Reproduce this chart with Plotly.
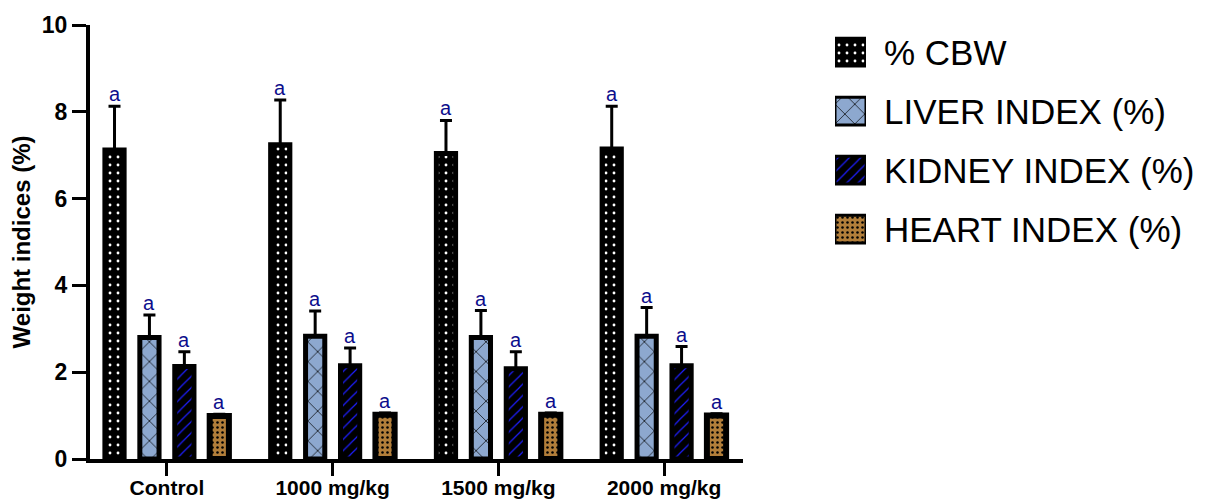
import plotly.graph_objects as go

# ---- data ----
groups = ["Control", "1000 mg/kg", "1500 mg/kg", "2000 mg/kg"]
series_names = ["% CBW", "LIVER INDEX (%)", "KIDNEY INDEX (%)", "HEART INDEX (%)"]
cbw_mean = [7.12, 7.24, 7.04, 7.14]
cbw_sd = [1.01, 1.03, 0.76, 0.99]
liver_mean = [2.80, 2.83, 2.80, 2.83]
liver_sd = [0.52, 0.58, 0.62, 0.66]
kidney_mean = [2.13, 2.15, 2.08, 2.15]
kidney_sd = [0.34, 0.41, 0.39, 0.44]
heart_mean = [0.99, 1.02, 1.02, 1.00]
heart_sd = [0.04, 0.04, 0.04, 0.04]
sig_letters = ["a", "a", "a", "a"]
y_ticks = [0, 2, 4, 6, 8, 10]

means = [cbw_mean, liver_mean, kidney_mean, heart_mean]
sds = [cbw_sd, liver_sd, kidney_sd, heart_sd]

# ---- styles / layout geometry ----
FONT = "Liberation Sans, Arial, sans-serif"
PAGE_OFF = 8                      # default page margin around the figure
W, H = 1207 - PAGE_OFF, 500 - PAGE_OFF
ML = 90 - PAGE_OFF
MT = 25 - PAGE_OFF
MB = H - (459 - PAGE_OFF)
MR = 0
PLOT_W = W - ML - MR
PLOT_H = H - MT - MB
MAIN_RIGHT_PX = 743 - PAGE_OFF    # right end of the x axis line
BARGAP = 0.157
BARGROUPGAP = 0.45
patterns = [
    dict(shape=".", bgcolor="black", fgcolor="white", size=8, solidity=0.1, fillmode="replace"),
    dict(shape="x", bgcolor="#8DA8CF", fgcolor="black", size=14, solidity=0.1, fillmode="replace"),
    dict(shape="/", bgcolor="black", fgcolor="#1E1EFF", size=8, solidity=0.15, fillmode="replace"),
    dict(shape=".", bgcolor="#B27E3A", fgcolor="black", size=5, solidity=0.2, fillmode="replace"),
]
line_widths = [5, 5, 5, 6]
x_idx = list(range(len(groups)))

fig = go.Figure()
for j, name in enumerate(series_names):
    fig.add_trace(go.Bar(
        x=x_idx, y=means[j], name=name, showlegend=False,
        marker=dict(color="black", pattern=patterns[j],
                    line=dict(color="black", width=line_widths[j])),
        error_y=dict(type="data", array=sds[j], symmetric=False, arrayminus=[0]*len(groups),
                     color="black", thickness=3, width=6),
        hoverinfo="skip",
    ))

# significance letters above error bars
slot = (1 - BARGAP) / len(series_names)
for j in range(len(series_names)):
    off = (j - (len(series_names) - 1) / 2) * slot
    for i in x_idx:
        fig.add_annotation(
            x=i + off, y=means[j][i] + sds[j][i], text=sig_letters[i],
            showarrow=False, yanchor="bottom", yshift=-1,
            font=dict(family=FONT, size=20, color="#0D0D8C"),
        )

# legend: large patterned swatches drawn as bars on a small helper axis
leg_idx = list(range(len(series_names)))
for j, name in enumerate(series_names):
    fig.add_trace(go.Bar(
        x=[1], y=[leg_idx[j]], orientation="h", xaxis="x2", yaxis="y2",
        width=0.47, showlegend=False, hoverinfo="skip",
        marker=dict(color="black", pattern=patterns[j],
                    line=dict(color="black", width=3)),
    ))
    fig.add_annotation(
        x=1, y=leg_idx[j], xref="x2", yref="y2", text=name,
        showarrow=False, xanchor="left", xshift=16,
        font=dict(family=FONT, size=35, color="black"),
    )

def px_x(p):
    return (p - PAGE_OFF - ML) / PLOT_W

def px_y(p):
    return (H - MB - (p - PAGE_OFF)) / PLOT_H

fig.update_layout(
    width=W, height=H,
    margin=dict(l=ML, r=MR, t=MT, b=MB, autoexpand=False),
    paper_bgcolor="white", plot_bgcolor="white",
    barmode="group", bargap=BARGAP, bargroupgap=BARGROUPGAP,
    showlegend=False,
    font=dict(family=FONT, color="black"),
    xaxis=dict(
        domain=[0, (MAIN_RIGHT_PX - ML) / PLOT_W],
        range=[-0.464, 3.476], tickmode="array", tickvals=x_idx, ticktext=groups,
        showline=True, linecolor="black", linewidth=4,
        ticks="outside", ticklen=13, tickwidth=3, tickcolor="black",
        ticklabelstandoff=-6,
        tickfont=dict(family=FONT, size=21, color="black", weight="bold"),
        showgrid=False, zeroline=False, fixedrange=True, automargin=False,
    ),
    yaxis=dict(
        range=[0, 10], tickmode="array", tickvals=y_ticks,
        showline=True, linecolor="black", linewidth=4,
        ticks="outside", ticklen=14, tickwidth=3, tickcolor="black",
        tickfont=dict(family=FONT, size=23, color="black", weight="bold"),
        title=dict(text="Weight indices (%)", standoff=12,
                   font=dict(family=FONT, size=24, color="black", weight="bold")),
        showgrid=False, zeroline=False, fixedrange=True, automargin=False,
    ),
    xaxis2=dict(domain=[px_x(835), px_x(866)], range=[0, 1], anchor="y2",
                visible=False, fixedrange=True),
    yaxis2=dict(domain=[px_y(259), 1.0], range=[3.508, -0.458], anchor="x2",
                visible=False, fixedrange=True),
)

fig.write_html("out.html")
